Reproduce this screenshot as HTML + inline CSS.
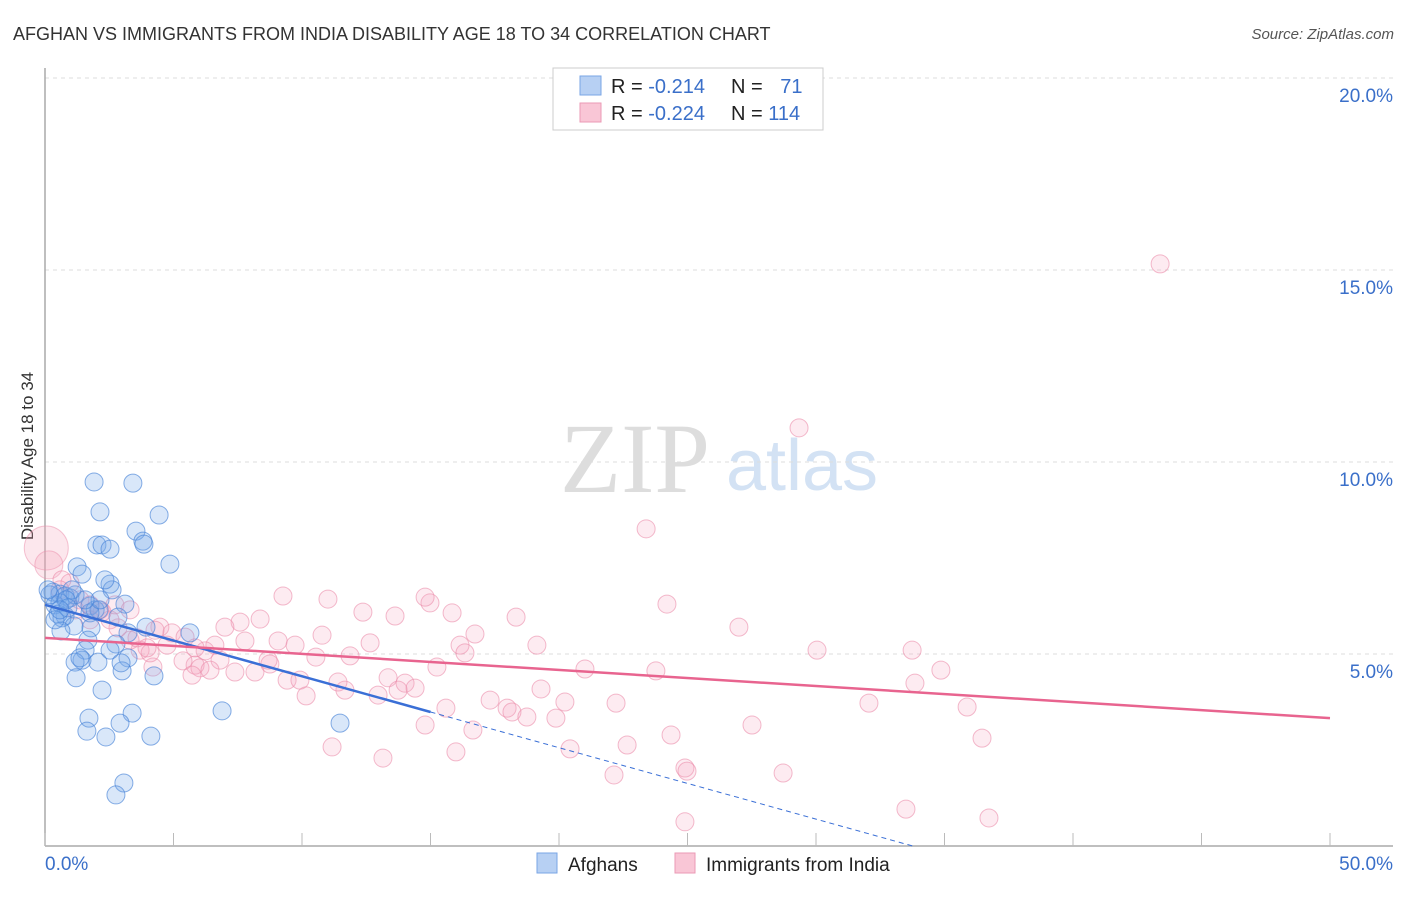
<!DOCTYPE html>
<html><head><meta charset="utf-8"><style>
body{margin:0;background:#fff;font-family:"Liberation Sans",sans-serif;}
svg text{font-family:"Liberation Sans",sans-serif;}
svg text.serif{font-family:"Liberation Serif",serif;}
</style></head><body>
<svg id="chart" width="1406" height="892" xmlns="http://www.w3.org/2000/svg">
<text x="13" y="40" font-size="18" fill="#333">AFGHAN VS IMMIGRANTS FROM INDIA DISABILITY AGE 18 TO 34 CORRELATION CHART</text>
<text x="1394" y="39" font-size="15" fill="#555" font-style="italic" text-anchor="end">Source: ZipAtlas.com</text>
<text transform="translate(33,456) rotate(-90)" font-size="17" fill="#333" text-anchor="middle">Disability Age 18 to 34</text>
<g>
<text class="serif" x="635" y="492" font-size="100" fill="#ddd" text-anchor="middle">ZIP</text>
<text x="802" y="490" font-size="72" fill="#d3e2f4" text-anchor="middle">atlas</text>
</g>
<g id="grid"></g>
<g id="axes"></g>
<g id="marks"></g>
<g>
<rect x="553" y="68" width="270" height="62" fill="#fff" stroke="#ccc"/>
<rect x="580" y="76" width="21" height="19" fill="#b7d0f3" stroke="#7aa6e6"/>
<rect x="580" y="103" width="21" height="19" fill="#f9c6d6" stroke="#eb9ab5"/>
<text x="611" y="93" font-size="20" fill="#222">R = <tspan fill="#3a6fc9">-0.214</tspan></text>
<text x="731" y="93" font-size="20" fill="#222">N = <tspan fill="#3a6fc9" dx="12">71</tspan></text>
<text x="611" y="120" font-size="20" fill="#222">R = <tspan fill="#3a6fc9">-0.224</tspan></text>
<text x="731" y="120" font-size="20" fill="#222">N = <tspan fill="#3a6fc9">114</tspan></text>
</g>
<g>
<rect x="537" y="853" width="20" height="20" fill="#b7d0f3" stroke="#7aa6e6"/>
<text x="568" y="871" font-size="19" fill="#222">Afghans</text>
<rect x="675" y="853" width="20" height="20" fill="#f9c6d6" stroke="#eb9ab5"/>
<text x="706" y="871" font-size="19" fill="#222">Immigrants from India</text>
</g>
</svg>
<script>
const blueX=[1.91,3.42,2.14,4.44,2.02,2.22,2.53,3.54,3.81,3.85,4.86,1.25,1.44,2.53,2.61,0.31,0.58,0.78,0.97,1.17,0.39,0.58,1.75,1.95,3.11,2.10,1.75,0.78,0.51,0.66,1.13,0.62,1.79,1.67,2.84,3.93,5.64,3.23,1.56,1.44,2.76,2.53,2.06,1.17,1.36,3.23,3.00,2.96,1.21,4.24,2.22,6.89,1.71,3.39,2.92,1.63,2.37,4.12,11.48,3.07,2.76,0.19,0.12,0.39,2.14,1.05,1.56,0.82,2.33,0.89,0.58];
const blueY=[9.48,9.45,8.70,8.62,7.84,7.84,7.73,8.20,7.94,7.86,7.34,7.27,7.08,6.82,6.67,6.61,6.56,6.51,6.46,6.54,6.28,6.33,6.25,6.15,6.30,6.15,6.07,5.99,6.04,5.94,5.73,5.60,5.68,5.36,5.96,5.70,5.55,5.55,5.10,4.84,5.26,5.10,4.79,4.79,4.90,4.90,4.56,4.77,4.38,4.43,4.06,3.52,3.33,3.46,3.20,2.99,2.84,2.86,3.20,1.64,1.33,6.54,6.67,5.89,6.41,6.67,6.41,6.41,6.93,6.20,6.15];
const pinkX=[43.39,29.34,23.39,24.20,27.00,30.04,33.74,34.86,32.06,33.85,35.88,36.46,27.51,24.36,28.72,24.90,24.98,22.65,22.14,20.43,19.30,21.01,20.23,22.22,23.77,19.14,18.33,16.73,16.15,16.34,15.25,14.98,14.79,15.84,13.62,12.65,12.37,11.87,11.01,10.78,10.54,9.73,9.26,9.07,8.37,7.59,7.78,7.00,6.61,6.23,5.84,6.03,7.39,8.17,8.75,8.68,9.42,9.92,10.16,11.67,11.40,12.96,13.35,13.74,14.01,14.40,15.60,17.32,17.98,18.17,18.75,19.88,16.65,14.79,15.99,13.15,11.17,33.50,36.73,24.90,4.47,4.94,5.37,5.72,4.20,3.70,4.09,3.31,2.84,2.53,2.14,1.75,0.97,0.66,1.36,2.72,3.58,6.81,6.42,5.45,5.84,4.75,3.97,4.28,2.22,3.31,1.75,1.17,0.58];
const pinkY=[15.16,10.89,8.26,6.30,5.70,5.10,5.10,4.58,3.72,4.24,3.62,2.81,3.15,2.89,1.90,2.03,1.95,2.63,1.85,2.53,4.09,4.61,3.75,3.72,4.56,5.23,5.96,5.52,5.23,5.03,4.66,6.33,6.48,6.07,5.99,5.29,6.09,4.95,6.43,5.49,4.92,5.23,6.51,5.34,5.91,5.83,5.34,5.70,5.23,5.08,4.71,4.64,4.53,4.53,4.74,4.84,4.32,4.32,3.91,4.06,4.27,3.93,4.38,4.06,4.24,4.11,3.59,3.80,3.59,3.49,3.36,3.33,3.02,3.15,2.45,2.29,2.58,0.96,0.73,0.63,5.70,5.55,4.82,4.45,4.66,5.10,5.03,5.36,5.68,5.89,6.15,6.28,6.85,6.93,6.41,6.28,5.42,4.84,4.58,5.44,5.16,5.23,5.16,5.62,6.09,6.15,5.89,6.15,6.67];
const pinkBigX=[0.05,0.15];
const pinkBigY=[7.76,7.32];
const pinkBigR=[22,14];
const blueTrend=[6.28,3.49]; // y at x=0 and x=15
const pinkTrend=[5.42,3.33]; // y at x=0 and x=50
const yTicks=[5,10,15,20];
const yTickLabels=["5.0%","10.0%","15.0%","20.0%"];
const xTicks=[0,5,10,15,20,25,30,35,40,45,50];
const xEndLabels=["0.0%","50.0%"];

const NS="http://www.w3.org/2000/svg";
const X=v=>45+v*25.7;
const Y=v=>846-v*38.4;
function mk(tag,attrs,parent){const e=document.createElementNS(NS,tag);for(const k in attrs)e.setAttribute(k,attrs[k]);parent.appendChild(e);return e;}
const grid=document.getElementById('grid'),axes=document.getElementById('axes'),marks=document.getElementById('marks');
yTicks.forEach((t,i)=>{
  const l=mk('line',{x1:45,x2:1393,y1:Y(t),y2:Y(t),stroke:'#ddd','stroke-dasharray':'4,4'},grid);
  
  
  const tx=mk('text',{x:1393,y:Y(t)+24,'font-size':19,fill:'#3a6fc9','text-anchor':'end'},axes);
  tx.textContent=yTickLabels[i];
  
  
});
const ax=mk('line',{x1:45,x2:45,y1:68,y2:846,stroke:'#aaa','stroke-width':1.5},axes);


const bx=mk('line',{x1:45,x2:1393,y1:846,y2:846,stroke:'#aaa','stroke-width':1.5},axes);


xTicks.forEach(t=>{
  const l=mk('line',{x1:X(t),x2:X(t),y1:833,y2:846,stroke:'#bbb'},axes);
  
  
});
[[0,'start'],[50,'end']].forEach((p,i)=>{
  const tx=mk('text',{x:i?1393:45,y:870,'font-size':19,fill:'#3a6fc9','text-anchor':p[1]},axes);
  tx.textContent=xEndLabels[i];
  
  
});
pinkBigX.forEach((v,i)=>{
  const c=mk('circle',{cx:X(v),cy:Y(pinkBigY[i]),r:pinkBigR[i],fill:'rgba(242,160,185,0.25)',stroke:'rgba(235,140,170,0.5)'},marks);
  
  
});
pinkX.forEach((v,i)=>{
  const c=mk('circle',{cx:X(v),cy:Y(pinkY[i]),r:9,fill:'rgba(245,165,190,0.22)',stroke:'rgba(235,140,170,0.6)','stroke-width':1},marks);
  
  
});
blueX.forEach((v,i)=>{
  const c=mk('circle',{cx:X(v),cy:Y(blueY[i]),r:9,fill:'rgba(120,170,235,0.28)',stroke:'rgba(70,130,215,0.65)','stroke-width':1},marks);
  
  
});
const slope=(blueTrend[1]-blueTrend[0])/15;
const xZero=-blueTrend[0]/slope;
const bd=mk('line',{x1:X(15),y1:Y(blueTrend[1]),x2:X(xZero),y2:Y(0),stroke:'#3a6fd6','stroke-width':1,'stroke-dasharray':'5,4'},marks);


const bl=mk('line',{x1:X(0),y1:Y(blueTrend[0]),x2:X(15),y2:Y(blueTrend[1]),stroke:'#3a6fd6','stroke-width':2.5},marks);


const pl=mk('line',{x1:X(0),y1:Y(pinkTrend[0]),x2:X(50),y2:Y(pinkTrend[1]),stroke:'#e8648f','stroke-width':2.5},marks);


</script>
</body></html>
